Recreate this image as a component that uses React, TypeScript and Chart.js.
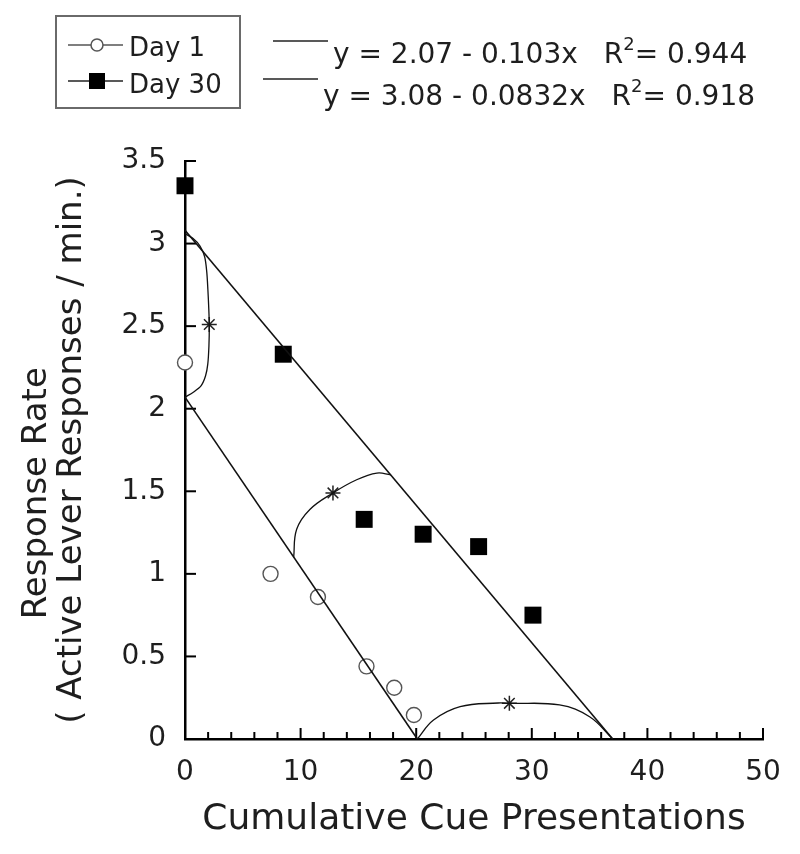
import React, { useEffect, useRef } from 'react';
import { Chart, registerables } from 'chart.js';

Chart.register(...registerables);

// ---- data ----
const day1X = [0, 7.4, 11.5, 15.7, 18.1, 19.8];
const day1Y = [2.28, 1.0, 0.86, 0.44, 0.31, 0.145];
const day30X = [0, 8.5, 15.5, 20.6, 25.4, 30.1];
const day30Y = [3.35, 2.33, 1.33, 1.24, 1.165, 0.75];

const fit1X = [0, 20.1];
const fit1Y = [2.07, 0];
const fit30X = [0, 37.0];
const fit30Y = [3.08, 0];

const curveAX = [0, 0.7, 1.3, 1.7, 1.88, 1.98, 2.06, 2.1, 2.07, 1.97, 1.78, 1.4, 0.72, 0];
const curveAY = [3.06, 3.03, 2.985, 2.92, 2.83, 2.72, 2.6, 2.5, 2.38, 2.27, 2.2, 2.14, 2.1, 2.07];
const curveBX = [9.4, 9.66, 10.8, 12.8, 14.85, 16.6, 17.8];
const curveBY = [1.1, 1.27, 1.39, 1.49, 1.57, 1.61, 1.6];
const curveCX = [20.1, 21.5, 23.8, 27.1, 28.06, 32.4, 35.0, 37.0];
const curveCY = [0, 0.115, 0.196, 0.218, 0.216, 0.206, 0.135, 0];

const starX = [2.1, 12.8, 28.06];
const starY = [2.51, 1.49, 0.216];

const legendLabels = ['Day 1', 'Day 30'];
const equationTexts = ['y = 2.07 - 0.103x', 'y = 3.08 - 0.0832x'];
const r2Texts = ['0.944', '0.918'];

const xTitle = 'Cumulative Cue Presentations';
const yTitle = ['Response Rate        ', '( Active Lever Responses / min.)'];

const xMin = 0, xMax = 50, xMajorStep = 10, xMinorStep = 2;
const yMin = 0, yMax = 3.5, yStep = 0.5;

const FONT = '"DejaVu Sans", sans-serif';
const TEXT = '#1e1e1e';

const pts = (xs: number[], ys: number[]) => xs.map((x, i) => ({ x, y: ys[i] }));

const decorPlugin = {
  id: 'decor',
  beforeDatasetsDraw(chart: any) {
    const { ctx, chartArea } = chart;
    const xs = chart.scales.x;
    const ys = chart.scales.y;
    ctx.save();
    ctx.strokeStyle = '#000';
    ctx.lineWidth = 2;
    for (let v = xMin; v <= xMax + 1e-9; v += xMinorStep) {
      const px = xs.getPixelForValue(v);
      const len = Math.abs(v % xMajorStep) < 1e-9 ? 11 : 7;
      ctx.beginPath();
      ctx.moveTo(px, chartArea.bottom);
      ctx.lineTo(px, chartArea.bottom - len);
      ctx.stroke();
    }
    for (let v = yMin; v <= yMax + 1e-9; v += yStep) {
      const py = ys.getPixelForValue(v);
      ctx.beginPath();
      ctx.moveTo(chartArea.left, py);
      ctx.lineTo(chartArea.left + 11, py);
      ctx.stroke();
    }
    ctx.restore();
  },
  afterDraw(chart: any) {
    const { ctx } = chart;
    ctx.save();
    // legend box
    ctx.strokeStyle = '#6a6a6a';
    ctx.lineWidth = 2;
    ctx.strokeRect(56, 16, 184, 92);
    // Day 1 row
    ctx.strokeStyle = '#555';
    ctx.lineWidth = 1.5;
    ctx.beginPath();
    ctx.moveTo(68, 45);
    ctx.lineTo(123, 45);
    ctx.stroke();
    ctx.fillStyle = '#fff';
    ctx.beginPath();
    ctx.arc(97, 45, 6, 0, Math.PI * 2);
    ctx.fill();
    ctx.stroke();
    // Day 30 row
    ctx.strokeStyle = '#222';
    ctx.beginPath();
    ctx.moveTo(68, 81);
    ctx.lineTo(123, 81);
    ctx.stroke();
    ctx.fillStyle = '#000';
    ctx.fillRect(89, 73, 16, 16);
    // legend text
    ctx.fillStyle = TEXT;
    ctx.font = `26px ${FONT}`;
    ctx.textBaseline = 'alphabetic';
    ctx.textAlign = 'left';
    ctx.fillText(legendLabels[0], 129, 56);
    ctx.fillText(legendLabels[1], 129, 93);

    // equations
    const eqX = [333, 323];
    const eqBase = [63, 105];
    const lineSeg = [[273, 328, 41], [263, 318, 79]];
    for (let i = 0; i < 2; i++) {
      ctx.strokeStyle = '#222';
      ctx.lineWidth = 1.5;
      ctx.beginPath();
      ctx.moveTo(lineSeg[i][0], lineSeg[i][2]);
      ctx.lineTo(lineSeg[i][1], lineSeg[i][2]);
      ctx.stroke();
      ctx.font = `28px ${FONT}`;
      ctx.fillStyle = TEXT;
      ctx.fillText(equationTexts[i], eqX[i], eqBase[i]);
      let x = eqX[i] + ctx.measureText(equationTexts[i]).width + 26;
      ctx.fillText('R', x, eqBase[i]);
      x += ctx.measureText('R').width;
      ctx.font = `18px ${FONT}`;
      ctx.fillText('2', x, eqBase[i] - 13);
      x += ctx.measureText('2').width;
      ctx.font = `28px ${FONT}`;
      ctx.fillText('= ' + r2Texts[i], x, eqBase[i]);
    }
    ctx.restore();
  },
};

export default function App() {
  const ref = useRef<HTMLCanvasElement>(null);
  useEffect(() => {
    if (!ref.current) return;
    const lineDs = (data: any[], width: number, tension: number) => ({
      type: 'line' as const,
      data,
      showLine: true,
      borderColor: '#111',
      borderWidth: width,
      pointRadius: 0,
      tension,
      fill: false,
      clip: false as any,
    });
    const chart = new Chart(ref.current, {
      type: 'scatter',
      data: {
        datasets: [
          lineDs(pts(fit1X, fit1Y), 1.6, 0),
          lineDs(pts(fit30X, fit30Y), 1.6, 0),
          lineDs(pts(curveAX, curveAY), 1.3, 0.3),
          lineDs(pts(curveBX, curveBY), 1.3, 0.4),
          lineDs(pts(curveCX, curveCY), 1.3, 0.4),
          {
            label: legendLabels[0],
            data: pts(day1X, day1Y),
            pointStyle: 'circle',
            pointRadius: 7.5,
            backgroundColor: '#fff',
            borderColor: '#555',
            borderWidth: 1.4,
            clip: false as any,
          },
          {
            label: legendLabels[1],
            data: pts(day30X, day30Y),
            pointStyle: 'rect',
            pointRadius: 12,
            backgroundColor: '#000',
            borderColor: '#000',
            borderWidth: 0,
            clip: false as any,
          },
          {
            data: pts(starX, starY),
            pointStyle: 'star',
            pointRadius: 7.5,
            backgroundColor: '#222',
            borderColor: '#222',
            borderWidth: 1.5,
            clip: false as any,
          },
        ] as any,
      },
      options: {
        animation: false,
        responsive: true,
        maintainAspectRatio: false,
        layout: { padding: { top: 161, right: 37, left: 0, bottom: 0 } },
        plugins: {
          legend: { display: false },
          tooltip: { enabled: false },
        },
        scales: {
          x: {
            type: 'linear',
            min: xMin,
            max: xMax,
            ticks: {
              stepSize: xMajorStep,
              color: TEXT,
              font: { family: FONT, size: 28 },
              padding: 17,
              maxRotation: 0,
            },
            grid: { display: false, drawTicks: false },
            border: { display: true, color: '#000', width: 2.5 },
            title: {
              display: true,
              text: xTitle,
              color: TEXT,
              font: { family: FONT, size: 36 },
              padding: { top: 0, bottom: 13 },
            },
            afterFit: (s: any) => {
              s.height = 115;
            },
          },
          y: {
            type: 'linear',
            min: yMin,
            max: yMax,
            ticks: {
              stepSize: yStep,
              color: TEXT,
              font: { family: FONT, size: 28 },
              padding: 19,
              callback: (v: any) => String(v),
            },
            grid: { display: false, drawTicks: false },
            border: { display: true, color: '#000', width: 2.5 },
            title: {
              display: true,
              text: yTitle,
              color: TEXT,
              font: { family: FONT, size: 34, lineHeight: 1.03 },
              padding: { top: 20, bottom: 0 },
            },
            afterFit: (s: any) => {
              s.width = 185;
            },
          },
        },
      } as any,
      plugins: [decorPlugin],
    });
    return () => chart.destroy();
  }, []);
  return (
    <div style={{ position: 'fixed', left: 0, top: 0, width: 800, height: 854, background: '#fff' }}>
      <canvas ref={ref} />
    </div>
  );
}
